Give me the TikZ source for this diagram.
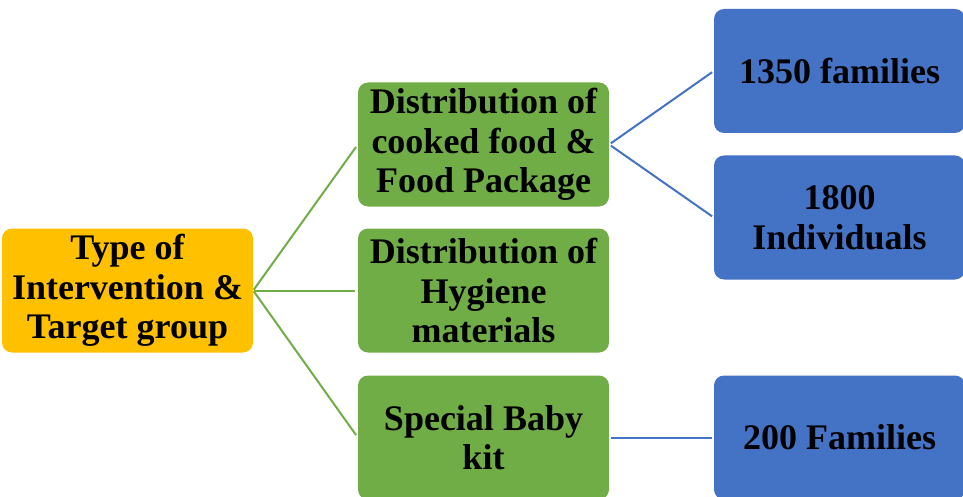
\documentclass[tikz,border=0pt]{standalone}
\usepackage{fontspec}
\setmainfont{Liberation Serif}
\definecolor{cOrange}{HTML}{FFC000}
\definecolor{cGreen}{HTML}{70AD47}
\definecolor{cBlue}{HTML}{4472C4}
\begin{document}
\begin{tikzpicture}[x=1pt,y=-1pt,
  box/.style={rounded corners=10pt, minimum width=251pt, minimum height=124pt, inner sep=0pt,
    align=center, font=\fontsize{36}{39.5}\selectfont\bfseries, text=black},
  rootbox/.style={box, fill=cOrange},
  greenbox/.style={box, fill=cGreen},
  bluebox/.style={box, fill=cBlue},
  gline/.style={draw=cGreen, line width=2pt, shorten <=1pt, shorten >=3pt},
  bline/.style={draw=cBlue, line width=2pt, shorten <=2pt, shorten >=2pt}]
\useasboundingbox (0,0) rectangle (963,497);
\node[rootbox] (root) at (127.5,290.5) {Type of\\Intervention \&\\Target group};
\node[greenbox] (g1) at (483.5,144.5) {Distribution of\\cooked food \&\\Food Package};
\node[greenbox] (g2) at (483.5,290.5) {Distribution of\\Hygiene\\materials};
\node[greenbox] (g3) at (483.5,437.5) {Special Baby\\kit};
\node[bluebox] (b1) at (839.5,71) {1350 families};
\node[bluebox] (b2) at (839.5,217.5) {1800\\Individuals};
\node[bluebox] (b3) at (839.5,437.5) {200 Families};
\draw[gline] (root.east) -- (g1.west);
\draw[gline] (root.east) -- (g2.west);
\draw[gline] (root.east) -- (g3.west);
\draw[bline] (g1.east) -- (b1.west);
\draw[bline] (g1.east) -- (b2.west);
\draw[bline] (g3.east) -- (b3.west);
\end{tikzpicture}
\end{document}
